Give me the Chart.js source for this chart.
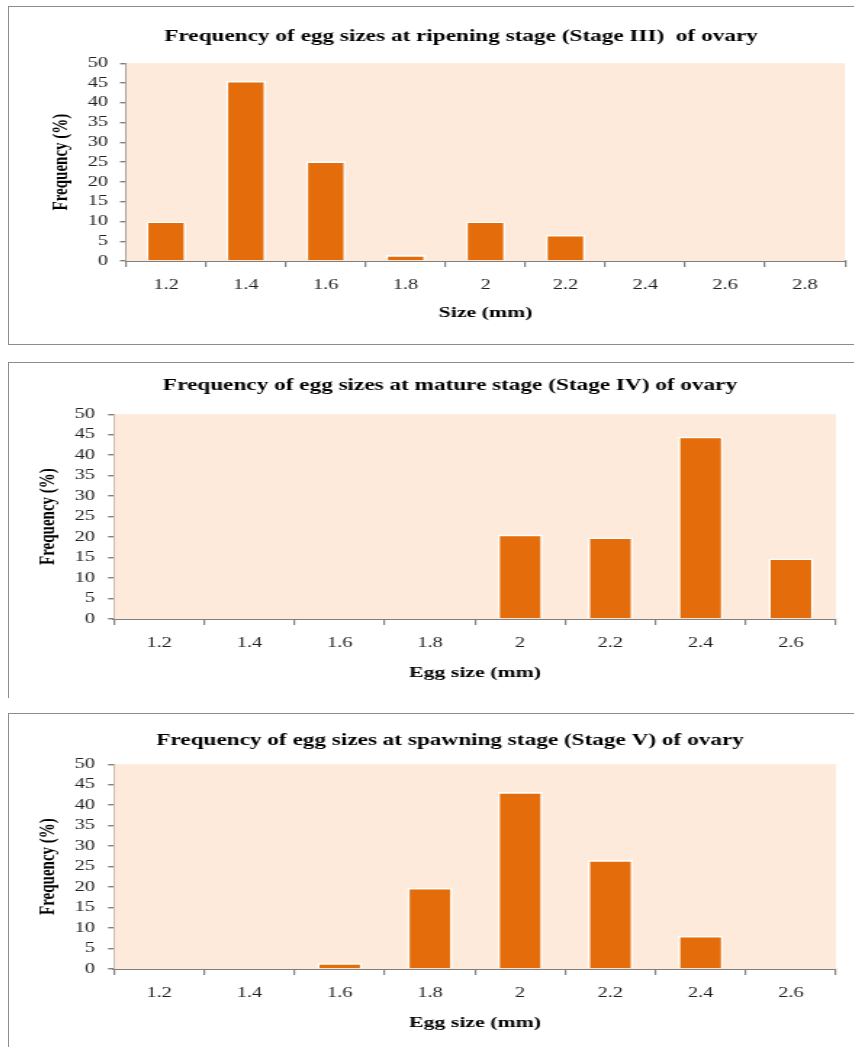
<!DOCTYPE html>
<html>
<head>
<meta charset="utf-8">
<script src="https://cdn.jsdelivr.net/npm/chart.js@4.4.1/dist/chart.umd.min.js"></script>
<style>
  html, body { margin: 0; padding: 0; background: #fff; overflow: hidden; width: 854px; height: 1047px; }
  .panel { position: absolute; left: 8px; border: 1px solid #8c8c8c; border-right: none; }
  .panel canvas { display: block; }
</style>
</head>
<body>
<div class="panel" style="top:6px;"><canvas id="c1"></canvas></div>
<div class="panel" style="top:362px;border-bottom:none;"><canvas id="c2"></canvas></div>
<div class="panel" style="top:713px;border-bottom:none;"><canvas id="c3"></canvas></div>
<script>
// ==== Datos ====
const sizesRipening = ['1.2', '1.4', '1.6', '1.8', '2', '2.2', '2.4', '2.6', '2.8'];
const freqRipening  = [10, 45.5, 25.2, 1.5, 10, 6.6, 0, 0, 0];

const sizesMature = ['1.2', '1.4', '1.6', '1.8', '2', '2.2', '2.4', '2.6'];
const freqMature  = [0, 0, 0, 0, 20.6, 19.9, 44.5, 14.8];

const sizesSpawning = ['1.2', '1.4', '1.6', '1.8', '2', '2.2', '2.4', '2.6'];
const freqSpawning  = [0, 0, 1.4, 19.8, 43.2, 26.6, 8.1, 0];

const yTicks = [0, 5, 10, 15, 20, 25, 30, 35, 40, 45, 50];

// ==== Estilos ====
const SERIF = '"Liberation Serif", "Times New Roman", serif';
const BAR = '#E46C0A';
const PLOT_BG = '#FDEADA';
const AXIS = '#808080';
// la figura original viene estirada en horizontal; se dibuja más estrecha y se estira con CSS
const SX = 1.45;

// fondo del área de trazado
const plotBg = {
  id: 'plotBg',
  beforeDatasetsDraw(chart) {
    const { ctx, chartArea: a } = chart;
    ctx.save();
    ctx.fillStyle = PLOT_BG;
    ctx.fillRect(a.left, a.top, a.right - a.left, a.bottom - a.top);
    ctx.restore();
  }
};

// L: medidas en px de página (las horizontales se dividen por SX)
function buildChart(id, title, xTitle, labels, values, L) {
  const canvas = document.getElementById(id);
  canvas.width = Math.round(L.w / SX);
  canvas.height = L.h;
  canvas.style.width = L.w + 'px';
  canvas.style.height = L.h + 'px';

  return new Chart(canvas, {
    type: 'bar',
    data: {
      labels: labels,
      datasets: [{
        data: values,
        backgroundColor: BAR,
        borderColor: '#ffffff',
        borderWidth: 1.6,
        barPercentage: 0.5,
        categoryPercentage: 1
      }]
    },
    options: {
      responsive: false,
      animation: false,
      devicePixelRatio: 1,
      layout: { padding: 0 },
      plugins: {
        legend: { display: false },
        tooltip: { enabled: false },
        title: {
          display: true,
          text: title,
          color: '#000',
          font: { family: SERIF, size: 16, weight: 'bold' },
          padding: { top: L.titleTop, bottom: L.titleBottom }
        }
      },
      scales: {
        x: {
          grid: { drawOnChartArea: false, color: AXIS, tickLength: 6, lineWidth: 1.2 },
          border: { color: AXIS, width: 2 },
          ticks: { color: '#222', font: { family: SERIF, size: 14 }, padding: 10, maxRotation: 0, autoSkip: false },
          title: {
            display: true,
            text: xTitle,
            color: '#000',
            font: { family: SERIF, size: 15, weight: 'bold' },
            padding: { top: 4, bottom: L.xTitleBottom }
          },
          afterFit: s => { s.height = L.xHeight; }
        },
        y: {
          min: 0,
          max: 50,
          afterBuildTicks: s => { s.ticks = yTicks.map(v => ({ value: v })); },
          grid: { drawOnChartArea: false, color: AXIS, tickLength: 6 / SX, lineWidth: 1.4 },
          border: { color: AXIS, width: 1.4 },
          ticks: { color: '#222', font: { family: SERIF, size: 14 }, padding: L.yTickPad / SX, autoSkip: false },
          title: {
            display: true,
            text: 'Frequency (%)',
            color: '#000',
            font: { family: SERIF, size: 15, weight: 'bold' },
            padding: { top: L.yTitleX / SX - 9, bottom: 0 }
          },
          afterFit: s => { s.width = L.yWidth / SX; }
        },
        // espacio a la derecha: la figura original está recortada
        pad: {
          position: 'right',
          display: true,
          grid: { display: false },
          ticks: { display: false },
          border: { display: false },
          afterFit: s => { s.width = (L.w - L.plotRight) / SX; }
        }
      }
    },
    plugins: [plotBg]
  });
}

buildChart('c1', 'Frequency of egg sizes at ripening stage (Stage III)  of ovary', 'Size (mm)',
  sizesRipening, freqRipening,
  { w: 904, h: 337, titleTop: 20, titleBottom: 17, xHeight: 83, xTitleBottom: 22,
    yWidth: 117, plotRight: 836, yTickPad: 12, yTitleX: 53 });

buildChart('c2', 'Frequency of egg sizes at mature stage (Stage IV) of ovary', 'Egg size (mm)',
  sizesMature, freqMature,
  { w: 882, h: 335, titleTop: 13, titleBottom: 19, xHeight: 79, xTitleBottom: 16,
    yWidth: 105, plotRight: 827, yTickPad: 13, yTitleX: 39 });

buildChart('c3', 'Frequency of egg sizes at spawning stage (Stage V) of ovary', 'Egg size (mm)',
  sizesSpawning, freqSpawning,
  { w: 882, h: 333, titleTop: 17, titleBottom: 14, xHeight: 78, xTitleBottom: 15,
    yWidth: 105, plotRight: 827, yTickPad: 13, yTitleX: 39 });
</script>
</body>
</html>
